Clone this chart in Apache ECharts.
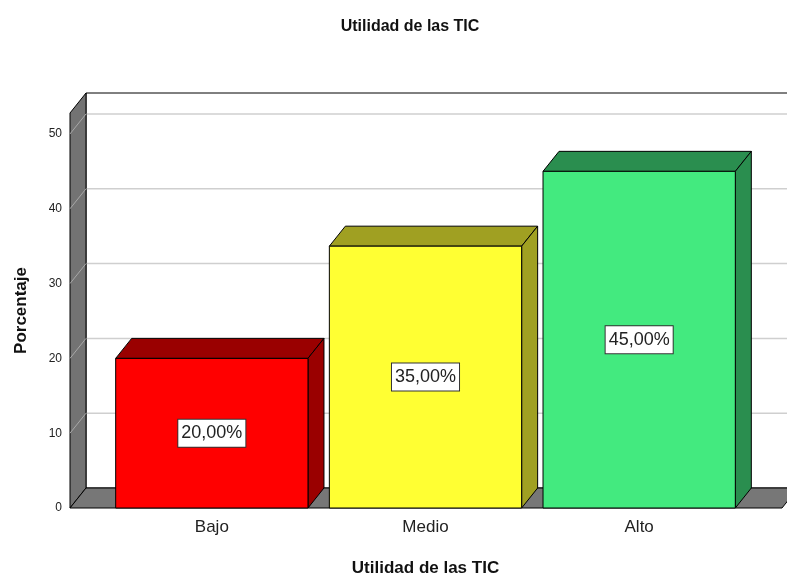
<!DOCTYPE html>
<html><head><meta charset="utf-8">
<script src="https://cdn.jsdelivr.net/npm/echarts@6/dist/echarts.min.js"></script>
<style>html,body{margin:0;padding:0;background:#fff}#c{width:787px;height:579px}</style>
</head><body><div id="c"></div>
<script>
var categories = ['Bajo', 'Medio', 'Alto'];
var values = [20, 35, 45];
var labelTexts = ['20,00%', '35,00%', '45,00%'];
var yTicks = [0, 10, 20, 30, 40, 50];
var frontColors = ['#ff0000', '#ffff33', '#43ea7f'];
var sideColors = ['#9a0000', '#a0a022', '#2a8e4f'];

var DX = 16, DY = -20;
var FONT = '"Liberation Sans", Arial, sans-serif';

var chart = echarts.init(document.getElementById('c'));

function frameRender(params, api) {
  var cs = params.coordSys;
  var base = api.coord([0, 0])[1];
  var fl = cs.x - 35;
  var fr = 782;
  var topF = cs.y;
  var children = [];
  children.push({type:'rect', shape:{x:fl+DX, y:topF+DY, width:900, height:base-topF}, style:{fill:'#fff', stroke:'#000', lineWidth:1}});
  for (var i = 1; i < yTicks.length; i++) {
    var y = api.coord([0, yTicks[i]])[1];
    children.push({type:'line', shape:{x1:fl+DX, y1:y+DY, x2:800, y2:y+DY}, style:{stroke:'#cfcfcf', lineWidth:1.5}});
  }
  children.push({type:'polygon', shape:{points:[[fl,base],[fl,topF],[fl+DX,topF+DY],[fl+DX,base+DY]]}, style:{fill:'#737373', stroke:'#000', lineWidth:1}, z2:1});
  for (var j = 1; j < yTicks.length; j++) {
    var yy = api.coord([0, yTicks[j]])[1];
    children.push({type:'line', shape:{x1:fl, y1:yy, x2:fl+DX, y2:yy+DY}, style:{stroke:'#a8a8a8', lineWidth:1}, z2:2});
  }
  children.push({type:'polygon', shape:{points:[[fl,base],[fl+DX,base+DY],[fr+DX,base+DY],[fr,base]]}, style:{fill:'#777777', stroke:'#000', lineWidth:1}, z2:3});
  return {type:'group', children:children};
}

function barRender(params, api) {
  var idx = api.value(0);
  var val = api.value(1);
  var top = api.coord([idx, val]);
  var base = api.coord([idx, 0]);
  var w = api.size([1, 0])[0] * 0.9;
  var x0 = top[0] - w / 2, x1 = top[0] + w / 2;
  var y0 = top[1], yb = base[1];
  var mid = api.coord([idx, val / 2]);
  var i = params.dataIndex;
  return {type:'group', children:[
    {type:'polygon', shape:{points:[[x0,y0],[x0+DX,y0+DY],[x1+DX,y0+DY],[x1,y0]]}, style:{fill:sideColors[i], stroke:'#000', lineWidth:1}},
    {type:'polygon', shape:{points:[[x1,y0],[x1+DX,y0+DY],[x1+DX,yb+DY],[x1,yb]]}, style:{fill:sideColors[i], stroke:'#000', lineWidth:1}},
    {type:'rect', shape:{x:x0, y:y0, width:w, height:yb-y0}, style:{fill:frontColors[i], stroke:'#000', lineWidth:1}},
    {type:'text', x:mid[0], y:mid[1], style:{text:labelTexts[i], fill:'#222', font:'18px ' + FONT, align:'center', verticalAlign:'middle', backgroundColor:'#fff', borderColor:'#333', borderWidth:1, padding:[5,3,4,3]}, z2:10}
  ]};
}

chart.setOption({
  animation: false,
  title: {text:'Utilidad de las TIC', left:405, textAlign:'center', top:14, textStyle:{fontFamily:FONT, fontSize:16, fontWeight:'bold', color:'#111'}},
  grid: {left:105, top:113, width:641, height:395, containLabel:false, outerBoundsMode:'none'},
  xAxis: {type:'category', data:categories, axisLine:{show:false}, axisTick:{show:false},
    axisLabel:{margin:11, fontFamily:FONT, fontSize:17, color:'#222'},
    name:'Utilidad de las TIC', nameLocation:'middle', nameGap:52,
    nameTextStyle:{fontFamily:FONT, fontSize:17, fontWeight:'bold', color:'#111'}},
  yAxis: {type:'value', min:0, max:52.8, interval:10, axisLine:{show:false}, axisTick:{show:false}, splitLine:{show:false},
    axisLabel:{margin:43, fontFamily:FONT, fontSize:12, color:'#222', showMaxLabel:false,
      formatter:function(v){ return yTicks.indexOf(v) >= 0 ? String(v) : ''; }},
    name:'Porcentaje', nameLocation:'middle', nameGap:75,
    nameTextStyle:{fontFamily:FONT, fontSize:17, fontWeight:'bold', color:'#111'}},
  series: [
    {type:'custom', renderItem:frameRender, data:[[0, 0]], silent:true, z:1, clip:false},
    {type:'custom', renderItem:barRender, data:values.map(function(v, i){ return [i, v]; }), z:2, clip:false}
  ]
});
</script></body></html>
